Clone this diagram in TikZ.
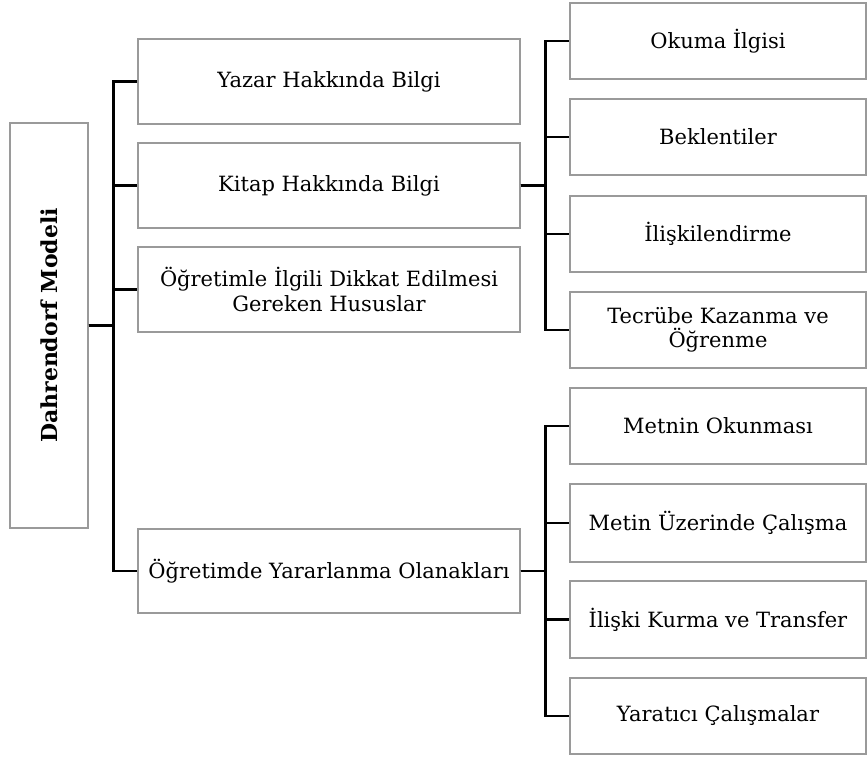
\documentclass[tikz,border=0pt]{standalone}
\usepackage{fontspec}
\setmainfont{DejaVu Serif}
\usepackage{tikz}
\usetikzlibrary{positioning,calc}
\definecolor{frame}{HTML}{9A9A9A}
\definecolor{ink}{HTML}{000000}
\tikzset{
  box/.style={draw=frame, line width=1.2pt, fill=white, inner sep=2pt,
              align=center, font=\fontsize{21}{24.5}\selectfont, text=ink},
  mainbox/.style={box, minimum width=382pt, minimum height=85pt},
  subbox/.style={box, minimum width=296pt, minimum height=76pt},
  link/.style={draw=ink, line width=2.8pt}
}
\begin{document}
\begin{tikzpicture}[x=1pt, y=-1pt]
  \useasboundingbox[fill=white] (0,0) rectangle (868,758);

  % root
  \node[box, rotate=90, minimum width=405pt, minimum height=78pt,
        font=\fontsize{22}{26}\selectfont\bfseries] (root) at (49,325.5) {Dahrendorf Modeli};

  % first level
  \node[mainbox] (yazar) at (329,81.5) {Yazar Hakkında Bilgi};
  \node[mainbox] (kitap) at (329,185.5) {Kitap Hakkında Bilgi};
  \node[mainbox] (dikkat) at (329,289.5) {Öğretimle İlgili Dikkat Edilmesi\\Gereken Hususlar};
  \node[mainbox, minimum height=84pt] (olanak) at (329,571) {Öğretimde Yararlanma Olanakları};

  % under Kitap
  \node[subbox] (ilgi) at (718,41) {Okuma İlgisi};
  \node[subbox] (beklenti) at (718,137) {Beklentiler};
  \node[subbox] (iliskilen) at (718,234) {İlişkilendirme};
  \node[subbox] (tecrube) at (718,330) {Tecrübe Kazanma ve\\Öğrenme};

  % under Olanaklar
  \node[subbox] (okunma) at (718,426) {Metnin Okunması};
  \node[subbox, minimum height=78pt] (calisma) at (718,523) {Metin Üzerinde Çalışma};
  \node[subbox, minimum height=77pt] (transfer) at (718,619.5) {İlişki Kurma ve Transfer};
  \node[subbox] (yaratici) at (718,716) {Yaratıcı Çalışmalar};

  % connectors
  \foreach \n in {yazar,kitap,dikkat,olanak}
    \draw[link] (root.south) -- ++(25,0) |- (\n.west);
  \foreach \n in {ilgi,beklenti,iliskilen,tecrube}
    \draw[link] (kitap.east) -- ++(25,0) |- (\n.west);
  \foreach \n in {okunma,calisma,transfer,yaratici}
    \draw[link] (olanak.east) -- ++(25,0) |- (\n.west);
\end{tikzpicture}
\end{document}
